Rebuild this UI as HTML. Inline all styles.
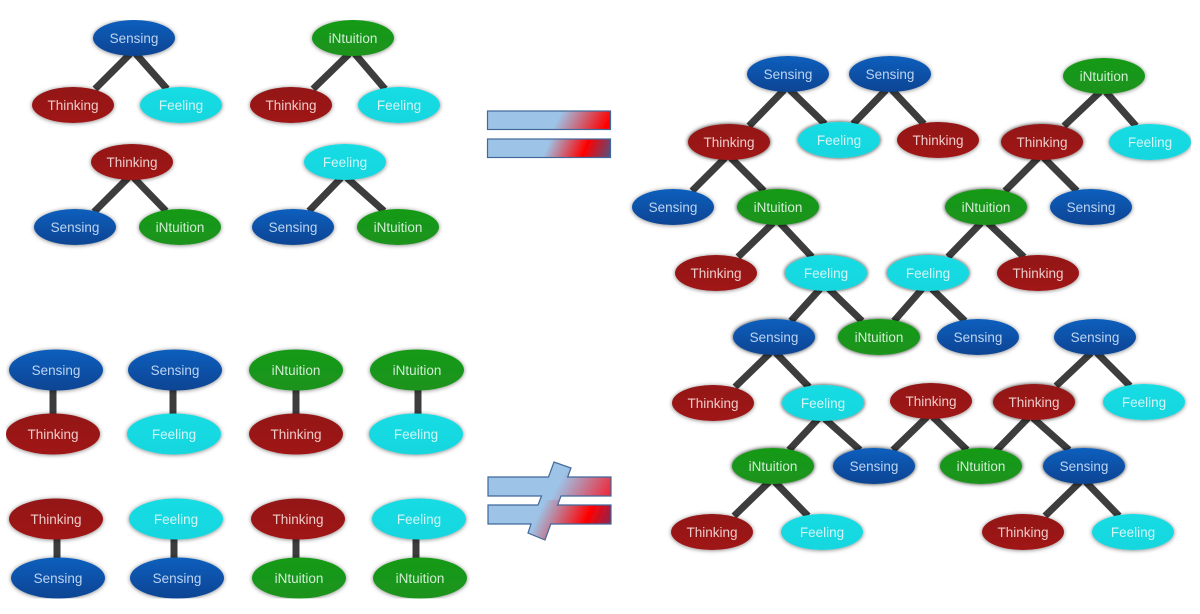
<!DOCTYPE html>
<html>
<head>
<meta charset="utf-8">
<style>
html,body{margin:0;padding:0;background:#fff;width:1200px;height:614px;overflow:hidden}
svg{display:block}
text{font-family:"Liberation Sans",sans-serif;font-size:13.5px;text-anchor:middle}
.n ellipse{filter:url(#sh)}
.n.d ellipse{filter:url(#shd)}
.S ellipse{fill:url(#gS)} .S text{fill:#bcd4f2}
.T ellipse{fill:url(#gT)} .T text{fill:#eecbc8}
.F ellipse{fill:url(#gF)} .F text{fill:#d2f6f6}
.I ellipse{fill:url(#gI)} .I text{fill:#d2edd2}
.l line{stroke:#3c3c3c;stroke-width:7}
</style>
</head>
<body>
<svg width="1200" height="614" viewBox="0 0 1200 614" xmlns="http://www.w3.org/2000/svg">
<defs>
<linearGradient id="gS" x1="0" y1="0" x2="0" y2="1"><stop offset="0" stop-color="#0c5fbd"/><stop offset="1" stop-color="#0a4493"/></linearGradient>
<linearGradient id="gT" x1="0" y1="0" x2="0" y2="1"><stop offset="0" stop-color="#931414"/><stop offset="1" stop-color="#a01818"/></linearGradient>
<linearGradient id="gF" x1="0" y1="0" x2="0" y2="1"><stop offset="0" stop-color="#17dce4"/><stop offset="1" stop-color="#17d6de"/></linearGradient>
<linearGradient id="gI" x1="0" y1="0" x2="0" y2="1"><stop offset="0" stop-color="#169a18"/><stop offset="1" stop-color="#1c931c"/></linearGradient>
<filter id="sh" x="-20%" y="-30%" width="140%" height="160%"><feDropShadow dx="0" dy="0.5" stdDeviation="2" flood-color="#000" flood-opacity="0.5"/></filter>
<filter id="shd" x="-20%" y="-30%" width="140%" height="160%"><feDropShadow dx="0" dy="0" stdDeviation="2" flood-color="#000" flood-opacity="0.85"/></filter>
<filter id="soft" x="0" y="0" width="100%" height="100%"><feGaussianBlur stdDeviation="0.35"/></filter>
<linearGradient id="b1" gradientUnits="userSpaceOnUse" x1="560" y1="115" x2="600" y2="137"><stop offset="0" stop-color="#9dc3e6"/><stop offset="1" stop-color="#ff0000"/></linearGradient>
<linearGradient id="b2" gradientUnits="userSpaceOnUse" x1="550" y1="140" x2="610" y2="165"><stop offset="0" stop-color="#9dc3e6"/><stop offset="0.55" stop-color="#ff0000"/><stop offset="1" stop-color="#42598f"/></linearGradient>
<linearGradient id="b3" gradientUnits="userSpaceOnUse" x1="562" y1="478" x2="605" y2="502"><stop offset="0" stop-color="#9dc3e6"/><stop offset="1" stop-color="#ee2a3a"/></linearGradient>
<linearGradient id="b4" gradientUnits="userSpaceOnUse" x1="545" y1="500" x2="612" y2="530"><stop offset="0" stop-color="#9dc3e6"/><stop offset="0.62" stop-color="#ff0000"/><stop offset="1" stop-color="#7a2a60"/></linearGradient>
<clipPath id="c3"><rect x="480" y="455" width="140" height="45"/></clipPath>
<clipPath id="c4"><rect x="480" y="500" width="140" height="45"/></clipPath>
</defs>
<g filter="url(#soft)">
<g class="l">
<line x1="130" y1="54" x2="95" y2="89"/><line x1="136" y1="54" x2="167" y2="89"/>
<line x1="349" y1="54" x2="313" y2="89"/><line x1="355" y1="54" x2="385" y2="89"/>
<line x1="128" y1="178" x2="94" y2="212"/><line x1="134" y1="178" x2="166" y2="211"/>
<line x1="341" y1="178" x2="309" y2="211"/><line x1="347" y1="178" x2="384" y2="211"/>
<line x1="53" y1="385" x2="53" y2="420"/><line x1="173" y1="385" x2="173" y2="420"/>
<line x1="296" y1="385" x2="296" y2="420"/><line x1="418" y1="385" x2="418" y2="420"/>
<line x1="57" y1="535" x2="57" y2="562"/><line x1="174" y1="535" x2="174" y2="562"/>
<line x1="296" y1="535" x2="296" y2="562"/><line x1="416" y1="535" x2="416" y2="562"/>
<line x1="784" y1="90" x2="749" y2="126"/><line x1="790" y1="90" x2="825" y2="124"/>
<line x1="886" y1="90" x2="853" y2="124"/><line x1="892" y1="90" x2="924" y2="124"/>
<line x1="1100" y1="92" x2="1064" y2="126"/><line x1="1106" y1="92" x2="1136" y2="126"/>
<line x1="725" y1="158" x2="692" y2="191"/><line x1="731" y1="158" x2="764" y2="191"/>
<line x1="1038" y1="158" x2="1005" y2="191"/><line x1="1044" y1="158" x2="1077" y2="191"/>
<line x1="773" y1="223" x2="738" y2="257"/><line x1="780" y1="223" x2="812" y2="257"/>
<line x1="981" y1="223" x2="948" y2="257"/><line x1="988" y1="223" x2="1024" y2="257"/>
<line x1="820" y1="289" x2="791" y2="321"/><line x1="829" y1="289" x2="862" y2="321"/>
<line x1="922" y1="289" x2="894" y2="321"/><line x1="932" y1="289" x2="965" y2="321"/>
<line x1="770" y1="353" x2="735" y2="387"/><line x1="776" y1="353" x2="809" y2="387"/>
<line x1="1091" y1="353" x2="1056" y2="386"/><line x1="1097" y1="353" x2="1130" y2="386"/>
<line x1="818" y1="419" x2="789" y2="450"/><line x1="825" y1="419" x2="860" y2="450"/>
<line x1="927" y1="417" x2="893" y2="450"/><line x1="933" y1="417" x2="967" y2="450"/>
<line x1="1028" y1="418" x2="995" y2="452"/><line x1="1033" y1="418" x2="1069" y2="450"/>
<line x1="769" y1="482" x2="734" y2="516"/><line x1="775" y1="482" x2="808" y2="516"/>
<line x1="1080" y1="482" x2="1045" y2="516"/><line x1="1086" y1="482" x2="1119" y2="516"/>
</g>

<!-- top-left trees -->
<g class="n S"><ellipse cx="134" cy="38" rx="41" ry="18"/><text x="134" y="43">Sensing</text></g>
<g class="n T"><ellipse cx="73" cy="105" rx="41" ry="18"/><text x="73" y="110">Thinking</text></g>
<g class="n F"><ellipse cx="181" cy="105" rx="41" ry="18"/><text x="181" y="110">Feeling</text></g>
<g class="n I"><ellipse cx="353" cy="38" rx="41" ry="18"/><text x="353" y="43">iNtuition</text></g>
<g class="n T"><ellipse cx="291" cy="105" rx="41" ry="18"/><text x="291" y="110">Thinking</text></g>
<g class="n F"><ellipse cx="399" cy="105" rx="41" ry="18"/><text x="399" y="110">Feeling</text></g>
<g class="n T"><ellipse cx="132" cy="162" rx="41" ry="18"/><text x="132" y="167">Thinking</text></g>
<g class="n S"><ellipse cx="75" cy="227" rx="41" ry="18"/><text x="75" y="232">Sensing</text></g>
<g class="n I"><ellipse cx="180" cy="227" rx="41" ry="18"/><text x="180" y="232">iNtuition</text></g>
<g class="n F"><ellipse cx="345" cy="162" rx="41" ry="18"/><text x="345" y="167">Feeling</text></g>
<g class="n S"><ellipse cx="293" cy="227" rx="41" ry="18"/><text x="293" y="232">Sensing</text></g>
<g class="n I"><ellipse cx="398" cy="227" rx="41" ry="18"/><text x="398" y="232">iNtuition</text></g>

<!-- bottom-left pairs -->
<g class="n S"><ellipse cx="56" cy="370" rx="47" ry="20.5"/><text x="56" y="375">Sensing</text></g>
<g class="n T"><ellipse cx="53" cy="434" rx="47" ry="20.5"/><text x="53" y="439">Thinking</text></g>
<g class="n S"><ellipse cx="175" cy="370" rx="47" ry="20.5"/><text x="175" y="375">Sensing</text></g>
<g class="n F"><ellipse cx="174" cy="434" rx="47" ry="20.5"/><text x="174" y="439">Feeling</text></g>
<g class="n I"><ellipse cx="296" cy="370" rx="47" ry="20.5"/><text x="296" y="375">iNtuition</text></g>
<g class="n T"><ellipse cx="296" cy="434" rx="47" ry="20.5"/><text x="296" y="439">Thinking</text></g>
<g class="n I"><ellipse cx="417" cy="370" rx="47" ry="20.5"/><text x="417" y="375">iNtuition</text></g>
<g class="n F"><ellipse cx="416" cy="434" rx="47" ry="20.5"/><text x="416" y="439">Feeling</text></g>
<g class="n T"><ellipse cx="56" cy="519" rx="47" ry="20.5"/><text x="56" y="524">Thinking</text></g>
<g class="n S"><ellipse cx="58" cy="578" rx="47" ry="20.5"/><text x="58" y="583">Sensing</text></g>
<g class="n F"><ellipse cx="176" cy="519" rx="47" ry="20.5"/><text x="176" y="524">Feeling</text></g>
<g class="n S"><ellipse cx="177" cy="578" rx="47" ry="20.5"/><text x="177" y="583">Sensing</text></g>
<g class="n T"><ellipse cx="298" cy="519" rx="47" ry="20.5"/><text x="298" y="524">Thinking</text></g>
<g class="n I"><ellipse cx="299" cy="578" rx="47" ry="20.5"/><text x="299" y="583">iNtuition</text></g>
<g class="n F"><ellipse cx="419" cy="519" rx="47" ry="20.5"/><text x="419" y="524">Feeling</text></g>
<g class="n I"><ellipse cx="420" cy="578" rx="47" ry="20.5"/><text x="420" y="583">iNtuition</text></g>

<!-- equals -->
<rect x="487.5" y="111" width="123" height="18.5" fill="url(#b1)" stroke="#41689a" stroke-width="1.2"/>
<rect x="487.5" y="139" width="123" height="18.5" fill="url(#b2)" stroke="#41689a" stroke-width="1.2"/>

<!-- not equals -->
<g clip-path="url(#c3)"><path d="M488 477H548.5L554 462L571 468L567.7 477H611V496H561L557.6 505H611V524H550.8L545 540L528 533L531 524H488V505H538L541.5 496H488Z" fill="url(#b3)"/></g>
<g clip-path="url(#c4)"><path d="M488 477H548.5L554 462L571 468L567.7 477H611V496H561L557.6 505H611V524H550.8L545 540L528 533L531 524H488V505H538L541.5 496H488Z" fill="url(#b4)"/></g>
<path d="M488 477H548.5L554 462L571 468L567.7 477H611V496H561L557.6 505H611V524H550.8L545 540L528 533L531 524H488V505H538L541.5 496H488Z" fill="none" stroke="#41689a" stroke-width="1.2"/>

<!-- right tree -->
<g class="n S"><ellipse cx="788" cy="74" rx="41" ry="18"/><text x="788" y="79">Sensing</text></g>
<g class="n S"><ellipse cx="890" cy="74" rx="41" ry="18"/><text x="890" y="79">Sensing</text></g>
<g class="n I"><ellipse cx="1104" cy="76" rx="41" ry="18"/><text x="1104" y="81">iNtuition</text></g>
<g class="n T d"><ellipse cx="729" cy="142" rx="41" ry="18"/><text x="729" y="147">Thinking</text></g>
<g class="n F d"><ellipse cx="839" cy="140" rx="41" ry="18"/><text x="839" y="145">Feeling</text></g>
<g class="n T"><ellipse cx="938" cy="140" rx="41" ry="18"/><text x="938" y="145">Thinking</text></g>
<g class="n T d"><ellipse cx="1042" cy="142" rx="41" ry="18"/><text x="1042" y="147">Thinking</text></g>
<g class="n F"><ellipse cx="1150" cy="142" rx="41" ry="18"/><text x="1150" y="147">Feeling</text></g>
<g class="n S"><ellipse cx="673" cy="207" rx="41" ry="18"/><text x="673" y="212">Sensing</text></g>
<g class="n I d"><ellipse cx="778" cy="207" rx="41" ry="18"/><text x="778" y="212">iNtuition</text></g>
<g class="n I d"><ellipse cx="986" cy="207" rx="41" ry="18"/><text x="986" y="212">iNtuition</text></g>
<g class="n S"><ellipse cx="1091" cy="207" rx="41" ry="18"/><text x="1091" y="212">Sensing</text></g>
<g class="n T"><ellipse cx="716" cy="273" rx="41" ry="18"/><text x="716" y="278">Thinking</text></g>
<g class="n F d"><ellipse cx="826" cy="273" rx="41" ry="18"/><text x="826" y="278">Feeling</text></g>
<g class="n F d"><ellipse cx="928" cy="273" rx="41" ry="18"/><text x="928" y="278">Feeling</text></g>
<g class="n T"><ellipse cx="1038" cy="273" rx="41" ry="18"/><text x="1038" y="278">Thinking</text></g>
<g class="n S d"><ellipse cx="774" cy="337" rx="41" ry="18"/><text x="774" y="342">Sensing</text></g>
<g class="n I d"><ellipse cx="879" cy="337" rx="41" ry="18"/><text x="879" y="342">iNtuition</text></g>
<g class="n S"><ellipse cx="978" cy="337" rx="41" ry="18"/><text x="978" y="342">Sensing</text></g>
<g class="n S"><ellipse cx="1095" cy="337" rx="41" ry="18"/><text x="1095" y="342">Sensing</text></g>
<g class="n T"><ellipse cx="713" cy="403" rx="41" ry="18"/><text x="713" y="408">Thinking</text></g>
<g class="n F d"><ellipse cx="823" cy="403" rx="41" ry="18"/><text x="823" y="408">Feeling</text></g>
<g class="n T"><ellipse cx="931" cy="401" rx="41" ry="18"/><text x="931" y="406">Thinking</text></g>
<g class="n T d"><ellipse cx="1034" cy="402" rx="41" ry="18"/><text x="1034" y="407">Thinking</text></g>
<g class="n F"><ellipse cx="1144" cy="402" rx="41" ry="18"/><text x="1144" y="407">Feeling</text></g>
<g class="n I d"><ellipse cx="773" cy="466" rx="41" ry="18"/><text x="773" y="471">iNtuition</text></g>
<g class="n S d"><ellipse cx="874" cy="466" rx="41" ry="18"/><text x="874" y="471">Sensing</text></g>
<g class="n I d"><ellipse cx="981" cy="466" rx="41" ry="18"/><text x="981" y="471">iNtuition</text></g>
<g class="n S d"><ellipse cx="1084" cy="466" rx="41" ry="18"/><text x="1084" y="471">Sensing</text></g>
<g class="n T"><ellipse cx="712" cy="532" rx="41" ry="18"/><text x="712" y="537">Thinking</text></g>
<g class="n F"><ellipse cx="822" cy="532" rx="41" ry="18"/><text x="822" y="537">Feeling</text></g>
<g class="n T"><ellipse cx="1023" cy="532" rx="41" ry="18"/><text x="1023" y="537">Thinking</text></g>
<g class="n F"><ellipse cx="1133" cy="532" rx="41" ry="18"/><text x="1133" y="537">Feeling</text></g>
</g>
</svg>
</body>
</html>
